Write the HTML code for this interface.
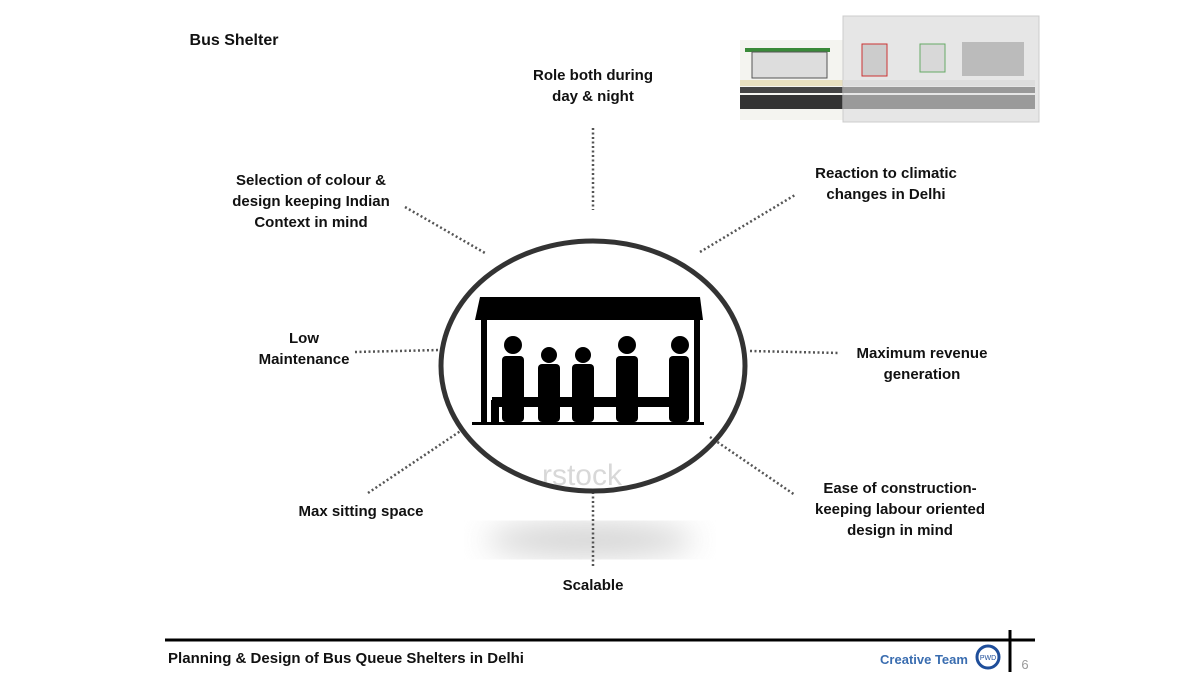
<!DOCTYPE html>
<html><head><meta charset="utf-8"><style>
body{margin:0;width:1200px;height:675px;background:#fff;overflow:hidden;position:relative;font-family:"Liberation Sans",sans-serif;}
.t{position:absolute;font-weight:bold;font-size:15px;color:#111;text-align:center;line-height:21px;white-space:nowrap;transform:translateX(-50%);}
</style></head><body>
<svg width="1200" height="675" style="position:absolute;left:0;top:0">
<defs><filter id="b"><feGaussianBlur stdDeviation="15"/></filter></defs>
<ellipse cx="590" cy="540" rx="105" ry="16" fill="#d0d0d0" filter="url(#b)"/>
<g stroke="#555" stroke-width="2.5" stroke-dasharray="2 2.5" fill="none">
<line x1="593" y1="128" x2="593" y2="210"/>
<line x1="405" y1="207" x2="485" y2="253"/>
<line x1="700" y1="252" x2="795" y2="195"/>
<line x1="355" y1="352" x2="440" y2="350"/>
<line x1="750" y1="351" x2="840" y2="353"/>
<line x1="368" y1="493" x2="462" y2="430"/>
<line x1="710" y1="437" x2="795" y2="495"/>
<line x1="593" y1="492" x2="593" y2="568"/>
</g>
<text x="582" y="485" font-family="Liberation Sans" font-size="30" fill="#d8d8d8" text-anchor="middle">rstock</text>
<ellipse cx="593" cy="366" rx="152" ry="125" fill="none" stroke="#333" stroke-width="5"/>
<g fill="#000">
<polygon points="480,297 700,297 703,320 475,320"/>
<rect x="481" y="318" width="6" height="105"/>
<rect x="694" y="318" width="6" height="105"/>
<rect x="492" y="397" width="190" height="10"/>
<rect x="491" y="400" width="8" height="22"/>
<rect x="472" y="422" width="232" height="3"/>
<circle cx="513" cy="345" r="9"/><rect x="502" y="356" width="22" height="66" rx="4"/>
<circle cx="549" cy="355" r="8"/><rect x="538" y="364" width="22" height="58" rx="4"/>
<circle cx="583" cy="355" r="8"/><rect x="572" y="364" width="22" height="58" rx="4"/>
<circle cx="627" cy="345" r="9"/><rect x="616" y="356" width="22" height="66" rx="4"/>
<circle cx="680" cy="345" r="9"/><rect x="669" y="356" width="20" height="66" rx="4"/>
</g>
<rect x="740" y="40" width="105" height="80" fill="#f4f4f0"/>
<rect x="745" y="48" width="85" height="4" fill="#3a8a3a"/>
<rect x="752" y="52" width="75" height="26" fill="#ddd" stroke="#555"/>
<rect x="740" y="80" width="105" height="6" fill="#e8e0c0"/>
<rect x="740" y="87" width="105" height="6" fill="#444"/>
<rect x="740" y="95" width="105" height="14" fill="#333"/>
<rect x="843" y="16" width="196" height="106" fill="#e6e6e6" stroke="#ccc"/>
<rect x="862" y="44" width="25" height="32" fill="#ccc" stroke="#c33"/>
<rect x="920" y="44" width="25" height="28" fill="#d8d8d8" stroke="#6a6"/>
<rect x="962" y="42" width="62" height="34" fill="#bbb"/>
<rect x="843" y="80" width="192" height="6" fill="#ddd"/>
<rect x="843" y="87" width="192" height="6" fill="#999"/>
<rect x="843" y="95" width="192" height="14" fill="#9a9a9a"/>
<line x1="165" y1="640" x2="1035" y2="640" stroke="#000" stroke-width="3"/>
<line x1="1010" y1="630" x2="1010" y2="672" stroke="#000" stroke-width="3"/>
<ellipse cx="988" cy="657" rx="11" ry="11" fill="#fff" stroke="#1f4e9a" stroke-width="3"/>
<text x="988" y="660" font-size="7" text-anchor="middle" fill="#1f4e9a" font-family="Liberation Sans">PWD</text>
</svg>
<div class="t" style="left:234px;top:30px;font-size:16px">Bus Shelter</div>
<div class="t" style="left:593px;top:65px">Role both during<br>day &amp; night</div>
<div class="t" style="left:311px;top:170px">Selection of colour &amp;<br>design keeping Indian<br>Context in mind</div>
<div class="t" style="left:886px;top:163px">Reaction to climatic<br>changes in Delhi</div>
<div class="t" style="left:304px;top:328px">Low<br>Maintenance</div>
<div class="t" style="left:922px;top:343px">Maximum revenue<br>generation</div>
<div class="t" style="left:361px;top:501px">Max sitting space</div>
<div class="t" style="left:900px;top:478px">Ease of construction-<br>keeping labour oriented<br>design in mind</div>
<div class="t" style="left:593px;top:575px">Scalable</div>
<div class="t" style="left:346px;top:648px">Planning &amp; Design of Bus Queue Shelters in Delhi</div>
<div class="t" style="left:924px;top:649px;font-size:13px;color:#3a6db0">Creative Team</div>
<div class="t" style="left:1025px;top:654px;font-size:13px;font-weight:normal;color:#999">6</div>
</body></html>
